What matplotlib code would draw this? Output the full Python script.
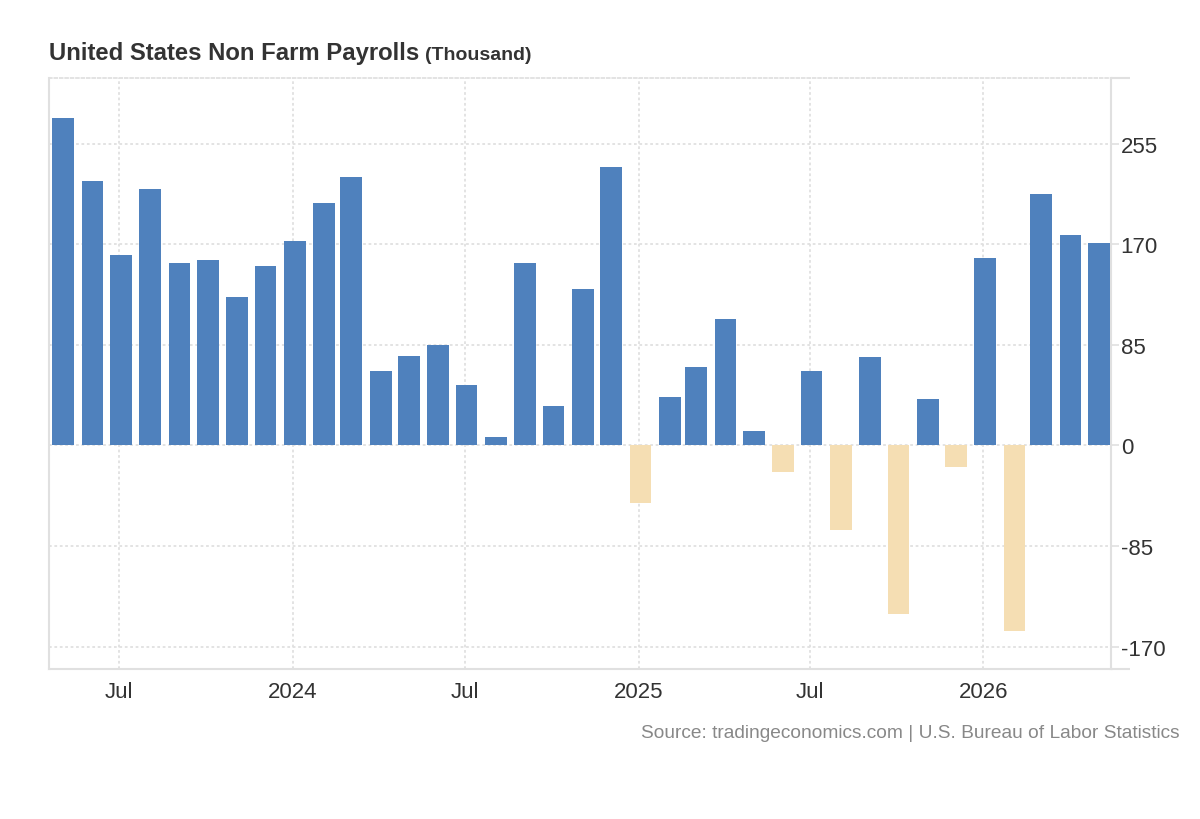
import numpy as np
import pandas as pd
import matplotlib
matplotlib.use('Agg')
import matplotlib.pyplot as plt
import matplotlib.dates as mdates

plt.rcParams['font.family'] = ['Liberation Sans', 'DejaVu Sans']
plt.rcParams['axes.unicode_minus'] = False

# monthly change in non farm payrolls (thousand), May 2023 - May 2026
months = pd.date_range('2023-05-01', '2026-05-01', freq='MS')
payrolls = [277, 223, 161, 217, 154, 157, 125, 152, 173, 205, 227,
            63, 76, 85, 51, 7, 154, 33, 132, 235,
            -49, 41, 66, 107, 12, -22, 63, -71, 75, -142, 39, -18,
            158, -157, 212, 178, 171]
y_ticks = [-170, -85, 0, 85, 170, 255]
x_ticks = ['2023-07-01', '2024-01-01', '2024-07-01', '2025-01-01',
           '2025-07-01', '2026-01-01']
x_labels = ['Jul', '2024', 'Jul', '2025', 'Jul', '2026']

BLUE = '#4f81bd'
NEG = '#f5deb3'
GRID = '#e0e0e0'
TEXT = '#333333'

fig = plt.figure(figsize=(12, 8.2), dpi=100)
ax = fig.add_axes([49/1200, 1 - 670/820, (1111 - 49)/1200, (670 - 79)/820])

colors = [BLUE if v >= 0 else NEG for v in payrolls]
ax.bar(months + pd.Timedelta(days=2), payrolls, width=23, color=colors,
       align='center', zorder=3)

ax.set_xlim(pd.Timestamp('2023-04-18'), pd.Timestamp('2026-05-16'))
ax.set_ylim(-188.8, 310.4)

# grid
ax.set_yticks(y_ticks)
ax.set_xticks(pd.to_datetime(x_ticks))
ax.set_xticklabels(x_labels)
ax.grid(True, color=GRID, linestyle=(0, (1.5, 1.5)), linewidth=1.3, zorder=0)

ax.yaxis.tick_right()
ax.tick_params(axis='y', which='major', length=6, width=1.2, color=GRID,
               labelsize=16, labelcolor=TEXT, pad=1)
ax.set_yticks([-188.8, 310.4], minor=True)
ax.tick_params(axis='y', which='minor', length=14, width=1.5, color=GRID)
ax.tick_params(axis='x', length=0, labelsize=16, labelcolor=TEXT, pad=9)

for side in ['left', 'bottom', 'right']:
    ax.spines[side].set_color(GRID)
    ax.spines[side].set_linewidth(1.5)
ax.spines['top'].set_color(GRID)
ax.spines['top'].set_linestyle((0, (1.5, 1.5)))
ax.spines['top'].set_linewidth(1.3)

# title
t = fig.text(49/1200, 1 - 60/820, 'United States Non Farm Payrolls',
             fontsize=17.2, fontweight='bold', color=TEXT, va='baseline')
fig.canvas.draw()
bb = t.get_window_extent()
fig.text((bb.x1 + 6) / 1200, 1 - 60/820, '(Thousand)', fontsize=14,
         fontweight='bold', color=TEXT, va='baseline')

fig.text(1180/1200, 1 - 738/820,
         'Source: tradingeconomics.com | U.S. Bureau of Labor Statistics',
         fontsize=13.8, color='#888888', ha='right', va='baseline')

fig.savefig('out.png', dpi=100, facecolor='white')
